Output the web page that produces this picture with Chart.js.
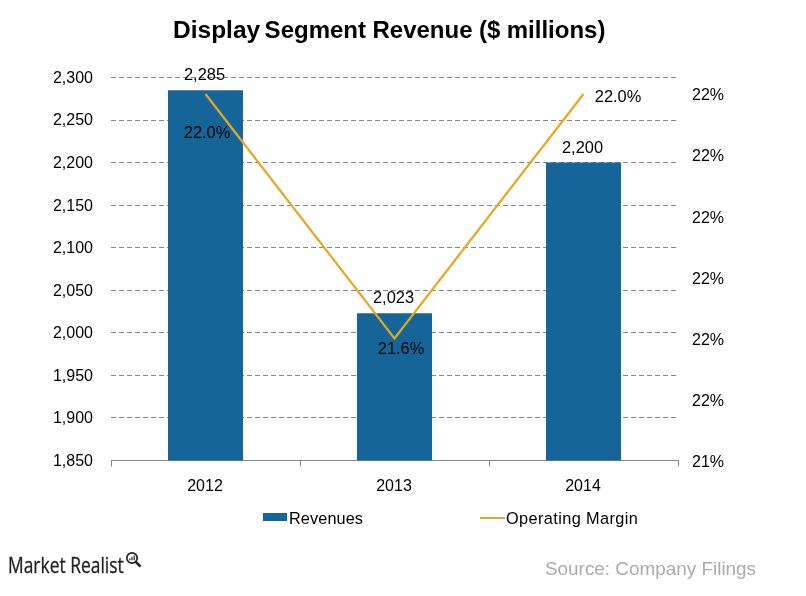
<!DOCTYPE html>
<html>
<head>
<meta charset="utf-8">
<title>Display Segment Revenue</title>
<script src="https://cdn.jsdelivr.net/npm/chart.js@4"></script>
<style>
  html, body { margin: 0; padding: 0; background: #fff; }
  #wrap { position: relative; width: 806px; height: 596px; overflow: hidden; font-family: "Liberation Sans", Arial, sans-serif; }
  #grafico { position: absolute; left: 0; top: 0; }
  .txt { position: absolute; white-space: nowrap; color: #000; }
  #title { left: 173px; top: 15px; font-weight: bold; font-size: 24px; line-height: 30px; word-spacing: -0.2px; }
  #title .first { font-size: 24.5px; margin-right: -2px; }
  #source { left: 545px; top: 557px; font-size: 18.9px; line-height: 24px; color: #ababab; }
  #brand { left: 8px; top: 551px; font-family: "Open Sans", sans-serif; font-size: 21px; line-height: 28px; color: #222; transform: scaleX(0.83); transform-origin: left top; -webkit-text-stroke: 0.3px #222; }
  #lupa { position: absolute; left: 125px; top: 551px; }
  .legend-item { position: absolute; top: 508px; font-size: 16.3px; line-height: 20px; }
  .legend-key { position: absolute; }
</style>
</head>
<body>
<div id="wrap">
  <canvas id="grafico" width="806" height="596"></canvas>
  <div class="txt" id="title"><span class="first">Display</span> Segment Revenue ($ millions)</div>
  <div id="legend"></div>
  <div class="txt" id="brand">Market Realist</div>
  <svg id="lupa" width="17" height="17" viewBox="0 0 17 17">
    <circle cx="7" cy="7" r="5.2" fill="none" stroke="#222" stroke-width="1.7"/>
    <line x1="10.8" y1="10.8" x2="15.5" y2="15.5" stroke="#222" stroke-width="2.6"/>
    <path d="M4.2 9.2h1.2V7.6H4.2zM6.4 9.2h1.2V6H6.4zM8.6 9.2h1.2V4.4H8.6z" fill="#222"/>
  </svg>
  <div class="txt" id="source">Source: Company Filings</div>
</div>
<script>
const categories = ["2012", "2013", "2014"];
const revenues = [2285, 2023, 2200];
const operatingMargin = [22.0, 21.6, 22.0];
const revenueTicks = [1850, 1900, 1950, 2000, 2050, 2100, 2150, 2200, 2250, 2300];
const marginTicks = [21.4, 21.5, 21.6, 21.7, 21.8, 21.9, 22.0];
const revenueLabels = ["2,285", "2,023", "2,200"];
const marginLabels = ["22.0%", "21.6%", "22.0%"];

const BAR_COLOR = "#156599";
const LINE_COLOR = "#E5A823";
const AXIS_COLOR = "#868686";
const FONT = "'Liberation Sans', Arial, sans-serif";

// label offsets from the mark they belong to
const revenueOffsets = [[-1, -14.5], [-1, -14.5], [-1, -14.5]];
const marginOffsets = [[1.5, 39], [6.5, 11], [34.5, 3]];

const dataLabels = {
  id: "dataLabels",
  afterDatasetsDraw(chart) {
    const { ctx } = chart;
    const bars = chart.getDatasetMeta(0).data;
    const points = chart.getDatasetMeta(1).data;
    ctx.save();
    ctx.font = `16.4px ${FONT}`;
    ctx.fillStyle = "#000";
    ctx.textAlign = "center";
    ctx.textBaseline = "middle";
    bars.forEach((bar, i) => {
      ctx.fillText(revenueLabels[i], bar.x + revenueOffsets[i][0], bar.y + revenueOffsets[i][1]);
    });
    points.forEach((point, i) => {
      ctx.fillText(marginLabels[i], point.x + marginOffsets[i][0], point.y + marginOffsets[i][1]);
    });
    ctx.restore();
  },
};

const grafico = new Chart(document.querySelector("#grafico"), {
  type: "bar",
  data: {
    labels: categories,
    datasets: [
      {
        type: "bar",
        label: "Revenues",
        data: revenues,
        yAxisID: "y",
        backgroundColor: BAR_COLOR,
        categoryPercentage: 0.397,
        barPercentage: 1,
        order: 2,
      },
      {
        type: "line",
        label: "Operating Margin",
        data: operatingMargin,
        yAxisID: "y1",
        borderColor: LINE_COLOR,
        backgroundColor: LINE_COLOR,
        borderWidth: 2.2,
        pointRadius: 0,
        tension: 0,
        order: 1,
      },
    ],
  },
  options: {
    responsive: false,
    animation: false,
    layout: { padding: { top: 77.5 } },
    plugins: {
      legend: { display: false },
      title: { display: false },
      tooltip: { enabled: false },
    },
    scales: {
      x: {
        afterFit: (scale) => { scale.height = 135.5; },
        grid: { drawOnChartArea: false, drawTicks: true, tickLength: 6, color: AXIS_COLOR, offset: true },
        border: { color: AXIS_COLOR },
        ticks: { color: "#000", font: { size: 16, family: FONT }, padding: 10, labelOffset: -0.5 },
      },
      y: {
        position: "left",
        min: 1850,
        max: 2300,
        afterFit: (scale) => { scale.width = 111; },
        afterBuildTicks: (scale) => { scale.ticks = revenueTicks.map((value) => ({ value })); },
        grid: {
          color: (ctx) => (ctx.tick && ctx.tick.value === 1850 ? "rgba(0,0,0,0)" : AXIS_COLOR),
          drawTicks: false,
        },
        border: { display: false, dash: [5, 3] },
        ticks: {
          color: "#000",
          font: { size: 16, family: FONT },
          padding: 18,
          labelOffset: 1,
          callback: (value) => value.toLocaleString("en-US"),
        },
      },
      y1: {
        position: "right",
        min: 21.4,
        max: 22.027,
        afterFit: (scale) => { scale.width = 128; },
        afterBuildTicks: (scale) => { scale.ticks = marginTicks.map((value) => ({ value })); },
        grid: { display: false, drawTicks: false },
        border: { display: false },
        ticks: {
          color: "#000",
          font: { size: 16, family: FONT },
          padding: 14,
          labelOffset: 2,
          callback: (value) => `${Math.round(value)}%`,
        },
      },
    },
  },
  plugins: [dataLabels],
});

// legend built from the datasets so it can sit where the original has it
const legendLeft = [263, 480];
const legendSpacing = ["0.1px", "0.4px"];
const contenedorLeyenda = document.querySelector("#legend");
grafico.data.datasets.forEach((dataset, i) => {
  const clave = document.createElement("div");
  clave.className = "legend-key";
  clave.style.left = `${legendLeft[i]}px`;
  clave.style.width = i === 0 ? "24px" : "25px";
  clave.style.top = i === 0 ? "513px" : "517px";
  clave.style.height = i === 0 ? "8px" : "2px";
  clave.style.background = dataset.backgroundColor;
  contenedorLeyenda.appendChild(clave);

  const texto = document.createElement("div");
  texto.className = "txt legend-item";
  texto.style.left = `${legendLeft[i] + 26}px`;
  texto.style.letterSpacing = legendSpacing[i];
  texto.textContent = dataset.label;
  contenedorLeyenda.appendChild(texto);
});
</script>
</body>
</html>
